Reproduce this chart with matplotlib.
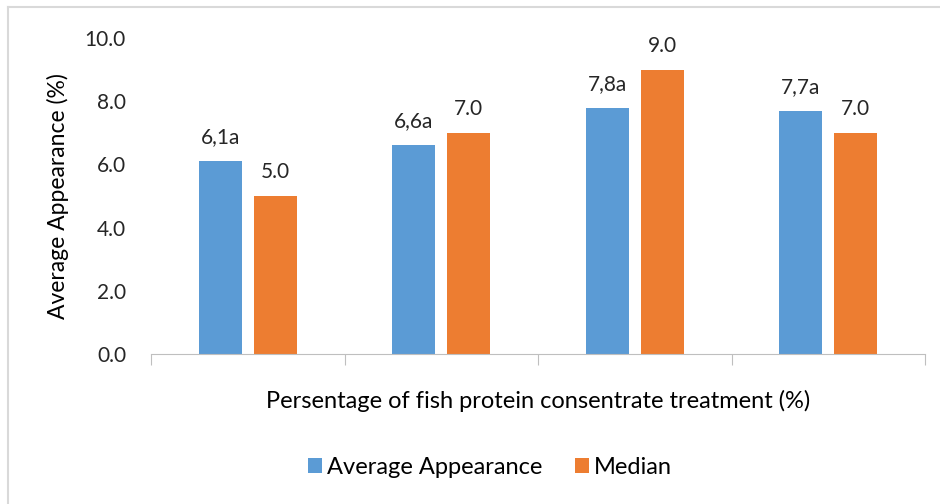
import matplotlib
matplotlib.use("Agg")
import matplotlib.pyplot as plt
from matplotlib.lines import Line2D
import numpy as np

categories = ["1", "2", "3", "4"]
average = [6.1, 6.6, 7.8, 7.7]
median = [5.0, 7.0, 9.0, 7.0]
avg_labels = ["6,1a", "6,6a", "7,8a", "7,7a"]
med_labels = ["5.0", "7.0", "9.0", "7.0"]
yticks = [0, 2, 4, 6, 8, 10]

blue = "#5B9BD5"
orange = "#ED7D31"
plt.rcParams['font.family'] = ['Lato', 'DejaVu Sans']
txt = "#262626"

fig = plt.figure(figsize=(9.4, 5.04), dpi=100)
ax = fig.add_axes([151/940, 1-354/504, (925-151)/940, (354-38)/504])

x = np.arange(len(categories))
w = 0.222
off = 0.142
b1 = ax.bar(x - off, average, w, color=blue, label="Average Appearance")
b2 = ax.bar(x + off, median, w, color=orange, label="Median")
for r, l in zip(b1, avg_labels):
    ax.annotate(l, (r.get_x() + r.get_width()/2, r.get_height()), xytext=(0, 10),
                textcoords="offset points", ha="center", va="bottom", fontsize=15, color=txt)
for r, l in zip(b2, med_labels):
    ax.annotate(l, (r.get_x() + r.get_width()/2, r.get_height()), xytext=(0, 10),
                textcoords="offset points", ha="center", va="bottom", fontsize=15, color=txt)

ax.set_xlim(-0.5, len(categories) - 0.5)
ax.set_ylim(0, 10)
ax.set_yticks(yticks)
ax.set_yticklabels([f"{v:.1f}" for v in yticks], fontsize=15, color=txt)
ax.tick_params(axis='y', length=0, pad=18)
ax.set_xticks(np.arange(len(categories) + 1) - 0.5)
ax.set_xticklabels([])
ax.tick_params(axis='x', length=8, color="#BFBFBF", direction='out')
for s in ["top", "right", "left"]:
    ax.spines[s].set_visible(False)
ax.spines["bottom"].set_color("#BFBFBF")

ax.set_ylabel("Average Appearance (%)", fontsize=16.5, color="black", labelpad=11)
ax.set_xlabel("Persentage of fish protein consentrate treatment (%)", fontsize=17,
              color="black", labelpad=14)

leg = fig.legend(handles=[b1, b2], loc="center", bbox_to_anchor=(490/940, 1-467/504),
                 ncol=2, frameon=False, fontsize=17, handlelength=0.6, handleheight=0.6,
                 handletextpad=0.2, columnspacing=1.4)

fig.add_artist(Line2D([8/940, 8/940], [0, 1-7/504], color="#D9D9D9", lw=1.5, transform=fig.transFigure))
fig.add_artist(Line2D([8/940, 1], [1-7/504, 1-7/504], color="#D9D9D9", lw=1.5, transform=fig.transFigure))

fig.savefig("out.png", dpi=100)
